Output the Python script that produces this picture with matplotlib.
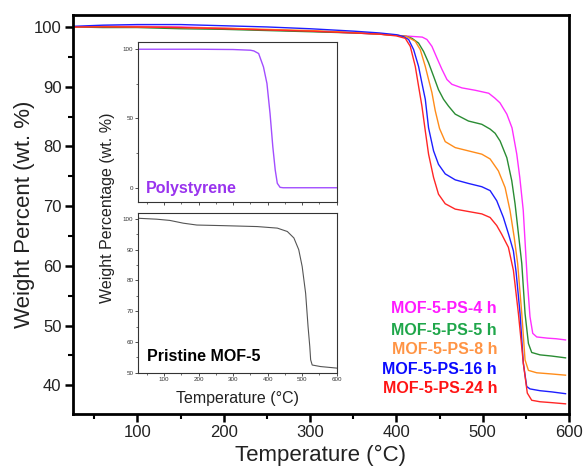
import matplotlib
matplotlib.use("Agg")
import matplotlib.pyplot as plt
from matplotlib.ticker import MultipleLocator

plt.rcParams['font.family'] = ['Liberation Sans', 'DejaVu Sans']

# ---------------- data ----------------
series_labels = ["MOF-5-PS-4 h", "MOF-5-PS-5 h", "MOF-5-PS-8 h", "MOF-5-PS-16 h", "MOF-5-PS-24 h"]
line_colors = ["#FF2EFF", "#2A8C33", "#FF8C1A", "#1E1EFF", "#FF2626"]
text_colors = ["#FF1AFF", "#1FA64A", "#FF9444", "#0A0AFF", "#FF1414"]

t_4h = [25, 60, 100, 150, 200, 250, 300, 350, 380, 400, 420, 430, 435.4, 441.2, 447, 452.8, 458.6, 464.3,
        475.9, 491.3, 507, 514, 520, 528, 534, 539.5, 543, 547, 549, 551.7, 554.8, 558, 562.6, 575, 585, 596]
w_4h = [100.0, 100.1, 100.1, 100.0, 99.8, 99.5, 99.3, 99.0, 98.8, 98.6, 98.4, 98.3, 97.9, 96.75, 94.8, 92.9,
        91.2, 90.4, 89.8, 89.4, 88.9, 88.1, 87.3, 85.4, 83.1, 78.7, 74.8, 69.3, 64.3, 57.6, 51.5, 48.7, 48.1,
        47.9, 47.8, 47.6]

t_5h = [25, 60, 100, 150, 200, 250, 300, 350, 380, 400, 412, 418, 425.7, 431.5, 437.3, 443.1, 448.8, 454.6,
        460.4, 468.2, 483.5, 499, 508.6, 514.4, 520.2, 528, 533.7, 537.5, 541.4, 545.3, 549.1, 553, 556.8,
        566.4, 580, 596]
w_5h = [100.0, 99.9, 99.9, 99.7, 99.6, 99.4, 99.2, 99.0, 98.8, 98.6, 98.4, 98.1, 97.3, 95.9, 94.0, 91.75,
        89.5, 87.9, 86.75, 85.4, 84.25, 83.7, 82.9, 82.2, 80.9, 78.1, 74.25, 70.4, 65.4, 60.4, 52.0, 47.0,
        45.5, 45.1, 44.9, 44.6]

t_8h = [25, 60, 100, 150, 200, 250, 300, 350, 380, 400, 412, 421.9, 427.7, 433.5, 437.3, 441.2, 445, 450,
        456.6, 468.2, 483.5, 499, 508.6, 518.2, 526, 531.7, 536.5, 540.5, 545.3, 549.1, 553, 562.6, 580, 596]
w_8h = [100.0, 100.1, 100.0, 99.9, 99.8, 99.6, 99.4, 99.1, 98.8, 98.6, 98.4, 97.6, 96.2, 93.4, 91.2, 89.0,
        86.0, 83.0, 80.8, 79.8, 79.25, 78.7, 77.9, 75.9, 73.1, 69.25, 64.8, 60.4, 52.0, 44.25, 42.5, 42.1,
        41.9, 41.7]

t_16h = [25, 60, 100, 150, 200, 250, 300, 350, 380, 400, 408, 414.2, 420, 425.7, 429.6, 433.5, 437.3, 443.1,
         448.8, 456.6, 468.2, 483.5, 499, 508.6, 516.3, 524, 530, 535.6, 538.7, 543.3, 547.1, 551, 554.8,
         566.4, 580, 596]
w_16h = [100.1, 100.3, 100.4, 100.4, 100.2, 100.0, 99.7, 99.3, 99.0, 98.7, 98.4, 97.9, 96.2, 93.4, 90.6,
         87.9, 83.1, 79.25, 77.0, 75.4, 74.4, 73.8, 73.25, 72.6, 70.9, 68.1, 65.3, 62.5, 59.0, 52.0, 43.7,
         39.8, 39.4, 39.1, 38.9, 38.6]

t_24h = [25, 60, 100, 150, 200, 250, 300, 350, 380, 400, 410.3, 416.1, 421.9, 425.7, 429.6, 433.5, 437.3,
         443.1, 448.8, 456.6, 468.2, 483.5, 499, 508.6, 516.3, 522, 529.8, 535.6, 541.4, 547.1, 551.7, 556.8,
         566.4, 580, 596]
w_24h = [100.0, 100.0, 100.0, 99.9, 99.7, 99.5, 99.3, 99.0, 98.8, 98.5, 98.1, 96.75, 93.4, 90.1, 86.75,
         82.6, 78.7, 74.8, 72.0, 70.4, 69.5, 69.1, 68.7, 68.1, 66.75, 65.3, 63.1, 59.25, 52.0, 43.7, 38.7,
         37.5, 37.25, 37.1, 36.9]

t_ps = [25, 100, 200, 300, 350, 360, 374, 388, 398, 407, 415, 422, 428, 436, 445, 500, 600]
w_ps = [100, 100, 100, 99.8, 99.3, 98.8, 96.9, 87.2, 75.3, 53.6, 29.6, 12.8, 3.2, 0.3, 0, 0, 0]

t_mof = [25, 79, 117, 156, 195, 272, 370, 428, 457, 476, 490, 500, 510, 517, 522, 524.5, 529, 553, 600]
w_mof = [100.2, 99.9, 99.5, 98.6, 98.0, 97.8, 97.5, 97.0, 95.9, 93.8, 90.0, 84.5, 75.8, 65.0, 58.5, 54.2,
         52.5, 52.0, 51.5]

main_t = [t_4h, t_5h, t_8h, t_16h, t_24h]
main_w = [w_4h, w_5h, w_8h, w_16h, w_24h]

# ---------------- figure ----------------
fig = plt.figure(figsize=(5.84, 4.66), dpi=100)
ax = fig.add_axes([0.1245, 0.1116, 0.8498, 0.8562])

for t, w, c in zip(main_t, main_w, line_colors):
    ax.plot(t, w, color=c, lw=1.0)

ax.set_xlim(25, 600)
ax.set_ylim(35.2, 102)
ax.xaxis.set_major_locator(MultipleLocator(100))
ax.xaxis.set_minor_locator(MultipleLocator(50))
ax.yaxis.set_major_locator(MultipleLocator(10))
ax.yaxis.set_minor_locator(MultipleLocator(5))
for s in ax.spines.values():
    s.set_linewidth(2.0)
ax.tick_params(which='major', length=6, width=1.8, labelsize=12, pad=2, colors='black')
ax.tick_params(which='minor', length=3.5, width=1.5)
for lbl in ax.get_xticklabels() + ax.get_yticklabels():
    lbl.set_color('#222222')

ax.set_xlabel("Temperature (°C)", fontsize=16, va='center', color='#222222')
ax.xaxis.set_label_coords(0.5, -0.1028)
ax.set_ylabel("Weight Percent (wt. %)", fontsize=16, va='center', rotation_mode='default', color='#222222')
ax.yaxis.set_label_coords(-0.098, 0.5)

legend_y = [0.2644, 0.2105, 0.1604, 0.1103, 0.0627]
for lab, col, yy in zip(series_labels, text_colors, legend_y):
    ax.text(0.855, yy, lab, transform=ax.transAxes, ha='right', va='center',
            fontsize=11.5, fontweight='bold', color=col)

# ---------------- insets ----------------
ax1 = fig.add_axes([0.2358, 0.5659, 0.3408, 0.3433])
ax2 = fig.add_axes([0.2358, 0.2002, 0.3408, 0.3433])

ax1.plot(t_ps, w_ps, color="#A24DFF", lw=1.0)
ax2.plot(t_mof, w_mof, color="#555555", lw=0.8)

for a in (ax1, ax2):
    a.set_xlim(24, 600)
    a.xaxis.set_major_locator(MultipleLocator(100))
    a.xaxis.set_minor_locator(MultipleLocator(50))
    for s in a.spines.values():
        s.set_linewidth(0.8)
        s.set_color('#333333')
    a.tick_params(which='major', length=2.2, width=0.6, labelsize=4.5, pad=1, colors='#333333')
    a.tick_params(which='minor', length=1.3, width=0.5, colors='#333333')

ax1.set_ylim(-10.5, 105)
ax1.yaxis.set_major_locator(MultipleLocator(50))
ax1.yaxis.set_minor_locator(MultipleLocator(25))
ax1.tick_params(labelbottom=False)

ax2.set_ylim(50, 102)
ax2.yaxis.set_major_locator(MultipleLocator(10))
ax2.yaxis.set_minor_locator(MultipleLocator(5))

ax2.set_xlabel("Temperature (°C)", fontsize=11.5, va='center', color='#222222')
ax2.xaxis.set_label_coords(0.5, -0.164)
ax2.set_ylabel("Weight Percentage (wt. %)", fontsize=11.5, va='center', rotation_mode='default', color='#222222')
ax2.yaxis.set_label_coords(-0.154, 1.0325)

ax1.text(0.042, 0.089, "Polystyrene", transform=ax1.transAxes, ha='left', va='center',
         fontsize=11.5, fontweight='bold', color="#9933EE")
ax2.text(0.048, 0.10, "Pristine MOF-5", transform=ax2.transAxes, ha='left', va='center',
         fontsize=11.5, fontweight='bold', color="black")

fig.savefig("out.png", dpi=100)
